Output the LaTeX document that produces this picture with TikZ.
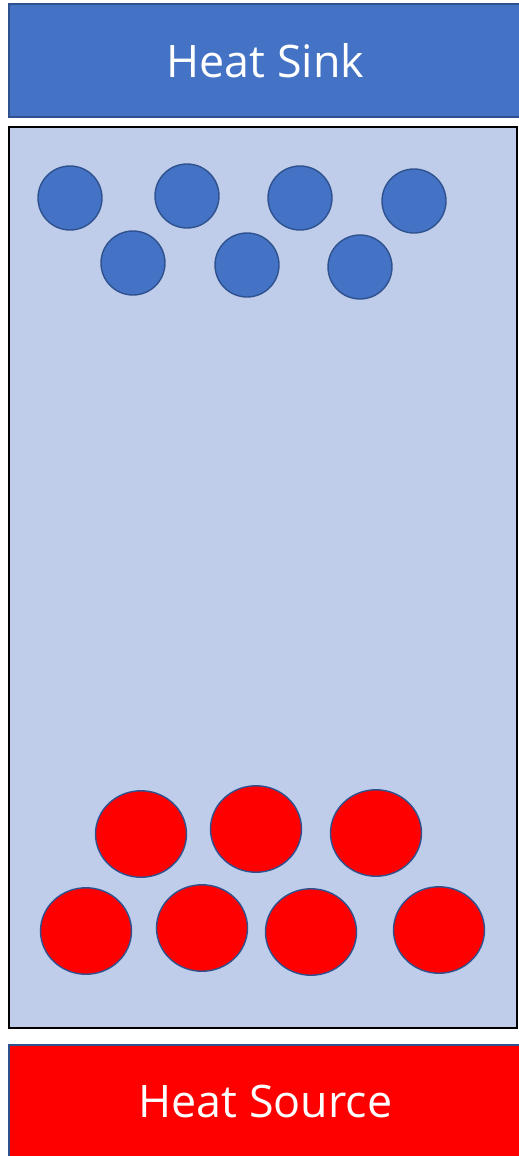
\documentclass[tikz,border=0pt]{standalone}
\usepackage{fontspec}
\setmainfont{Open Sans}
\usetikzlibrary{shapes.geometric}
\definecolor{sinkblue}{HTML}{4472C4}
\definecolor{edgeblue}{HTML}{2F528F}
\definecolor{fluid}{HTML}{BFCDEA}
\definecolor{hotred}{HTML}{FF0000}

\begin{document}
\begin{tikzpicture}[
	x=0.02cm, y=-0.02cm,
	plate/.style={rectangle, draw=edgeblue, line width=0.8pt, minimum width=10.26cm, minimum height=2.26cm, text=white, font=\fontsize{25.5}{30}\selectfont, inner sep=0pt},
	chamber/.style={rectangle, draw=black, line width=1.2pt, fill=fluid, minimum width=10.16cm, minimum height=18.02cm},
	cold/.style={circle, draw=edgeblue, line width=0.8pt, fill=sinkblue, minimum size=1.28cm, inner sep=0pt},
	hot/.style={ellipse, draw=edgeblue, line width=0.8pt, fill=hotred, minimum width=1.82cm, minimum height=1.73cm, inner sep=0pt}
	]
	\path[clip, use as bounding box] (0,0) rectangle (519,1156);
	\fill[white] (0,0) rectangle (519,1156);
	
	\node[plate, fill=sinkblue] (sink) at (265.5,60.5) {Heat Sink};
	\node[chamber] (box) at (263,577.5) {};
	\node[plate, fill=hotred] (source) at (265.5,1101.5) {Heat Source};
	
	% cold particles under the sink
	\foreach \px/\py [count=\i] in {70/198, 187/196, 300/198, 414/201, 133/263, 247/265, 360/267}
		\node[cold] (cold\i) at (\px,\py) {};
	
	% hot particles above the source
	\foreach \px/\py [count=\i] in {141/834, 256/829, 376/833, 86/931, 202/928, 311/932, 439/930}
		\node[hot] (hot\i) at (\px,\py) {};
\end{tikzpicture}
\end{document}
